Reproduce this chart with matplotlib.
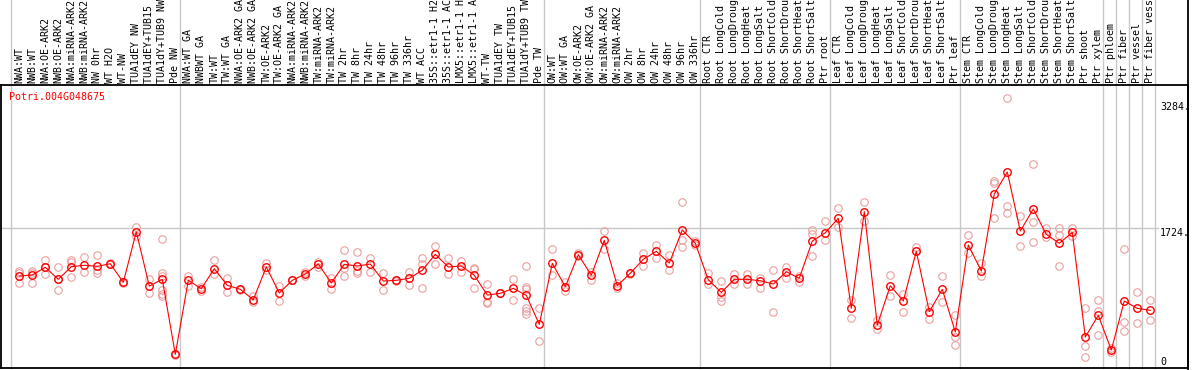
import matplotlib
matplotlib.use('Agg')
import matplotlib.pyplot as plt
from matplotlib.lines import Line2D
from matplotlib.transforms import blended_transform_factory

gene = 'Potri.004G048675'

# sample names, in plot order
samples = ['NWA:WT', 'NWB:WT', 'NWA:OE-ARK2', 'NWB:OE-ARK2', 'NWA:miRNA-ARK2',
           'NWB:miRNA-ARK2', 'NW 0hr', 'WT H2O', 'WT-NW', 'TUA1dEY NW',
           'TUA1dEY+TUB15 NW', 'TUA1dY+TUB9 NW', 'Pde NW',
           'NWA:WT GA', 'NWBWT GA', 'TW:WT', 'TW:WT GA', 'NWA:OE-ARK2 GA',
           'NWB:OE-ARK2 GA', 'TW:OE-ARK2', 'TW:OE-ARK2 GA', 'NWA:miRNA-ARK2',
           'NWB:miRNA-ARK2', 'TW:miRNA-ARK2', 'TW:miRNA-ARK2', 'TW 2hr', 'TW 8hr',
           'TW 24hr', 'TW 48hr', 'TW 96hr', 'TW 336hr', 'WT ACC',
           '35S::etr1-1 H2O', '35S::etr1-1 ACC', 'LMX5::etr1-1 H2O',
           'LMX5::etr1-1 ACC', 'WT-TW', 'TUA1dEY TW', 'TUA1dEY+TUB15 TW',
           'TUA1dY+TUB9 TW', 'Pde TW',
           'OW:WT', 'OW:WT GA', 'OW:OE-ARK2', 'OW:OE-ARK2 GA', 'OW:miRNA-ARK2',
           'OW:miRNA-ARK2', 'OW 2hr', 'OW 8hr', 'OW 24hr', 'OW 48hr', 'OW 96hr',
           'OW 336hr',
           'Root CTR', 'Root LongCold', 'Root LongDrought', 'Root LongHeat',
           'Root LongSalt', 'Root ShortCold', 'Root ShortDrought',
           'Root ShortHeat', 'Root ShortSalt', 'Ptr root',
           'Leaf CTR', 'Leaf LongCold', 'Leaf LongDrought', 'Leaf LongHeat',
           'Leaf LongSalt', 'Leaf ShortCold', 'Leaf ShortDrought',
           'Leaf ShortHeat', 'Leaf ShortSalt', 'Ptr leaf',
           'Stem CTR', 'Stem LongCold', 'Stem LongDrought', 'Stem LongHeat',
           'Stem LongSalt', 'Stem ShortCold', 'Stem ShortDrought',
           'Stem ShortHeat', 'Stem ShortSalt', 'Ptr shoot',
           'Ptr xylem', 'Ptr phloem', 'Ptr fiber', 'Ptr vessel', 'Ptr fiber vessel']

# first sample index of each group (last entry = end)
group_starts = [0, 13, 41, 53, 63, 73, 84, 85, 86, 87, 88]

# mean expression per sample
means = [1126, 1139, 1234, 1085, 1241, 1259, 1246, 1278, 1048, 1674,
         1002, 1085, 157, 1073, 969, 1217, 1011, 962, 833, 1238,
         916, 1073, 1151, 1275, 1040, 1271, 1250, 1275, 1064, 1073,
         1098, 1197, 1395, 1238, 1250, 1135, 891, 912, 974, 887,
         528, 1283, 994, 1390, 1135, 1568, 1006, 1160, 1333, 1432,
         1287, 1696, 1531, 1080, 924, 1085, 1085, 1068, 1027, 1179,
         1098, 1559, 1662, 1840, 726, 1922, 520, 1006, 817, 1432,
         684, 962, 433, 1510, 1188, 2141, 2413, 1683, 1955, 1642,
         1531, 1667, 371, 640, 210, 817, 726, 702]

# replicate values per sample
reps = [[1188, 1163, 1040], [1188, 1163, 1040], [1324, 1151, 1238],
        [1234, 949, 1089], [1324, 1110, 1300], [1358, 1172],
        [1382, 1160, 1200], [1270, 1285], [1040, 1055], [1733, 1625],
        [1085, 912], [1584, 1160, 1130, 953, 882, 903], [150, 163],
        [1126, 1002], [994, 937], [1324, 1155], [1098, 932], [962, 955],
        [882, 804], [1283, 1200], [999, 813], [1073, 1080], [1179, 1126],
        [1241, 1300], [1098, 962], [1444, 1130, 1229], [1420, 1167, 1188],
        [1353, 1179], [1163, 953], [1073, 1065], [1179, 1019],
        [1353, 1275, 974], [1498, 1275], [1353, 1147], [1316, 1179],
        [1229, 981, 1213], [1023, 804, 788], [912, 920], [1085, 825],
        [1250, 986, 965, 734, 693, 656], [726, 318], [1457, 1135],
        [1048, 941], [1415, 1374], [1179, 1077], [1683, 1457], [1036, 974],
        [1160, 1150], [1407, 1254], [1510, 1345], [1386, 1197],
        [2038, 1572, 1489], [1563, 1510], [1160, 1023], [1068, 863, 821],
        [1147, 1031], [1151, 1023], [1098, 981], [1200, 681], [1241, 1098],
        [1126, 1056], [1696, 1642, 1370], [1807, 1572], [1968, 1729],
        [829, 603], [2038, 1807], [582, 467], [1139, 882], [903, 677],
        [1489, 1436], [746, 590], [1126, 808], [644, 375, 269], [1634, 1407],
        [1291, 1130], [2306, 2273, 1840], [3325, 1993, 1902], [1869, 1497],
        [2512, 1791, 1543], [1717, 1613], [1717, 1634, 1250], [1724, 1625],
        [726, 260, 127], [829, 697, 392], [231, 189], [1457, 557, 442],
        [924, 541], [829, 582]]

y_ticks = [3284, 1724, 0]
y_tick_labels = ['3284.', '1724.', '0']
ref_level = 1724

W, H = 1194, 370
fig = plt.figure(figsize=(W / 100, H / 100), dpi=100)
ax = fig.add_axes([1 / W, 2 / H, 1187 / W, 283 / H])

x = list(range(len(samples)))
mono = 'DejaVu Sans Mono'
fs = 7.2

# replicates
for i, vals in enumerate(reps):
    ax.plot([i] * len(vals), vals, 'o', ms=5.4, mfc='none', mec='#eb9e9e',
            mew=0.8, zorder=3)

# means
ax.plot(x, means, '-', color='red', lw=0.8, zorder=4)
ax.plot(x, means, 'o', ms=5.4, mfc='none', mec='red', mew=1.0, zorder=5)

ax.set_xlim((1 - 19.3) / 13, (1188 - 19.3) / 13)
ax.set_ylim(-12, 3490)
ax.set_xticks([])
ax.set_yticks([])
for s in ax.spines.values():
    s.set_linewidth(1.3)
    s.set_color('black')

# grey reference lines
ax.axhline(ref_level, xmin=0, xmax=1157 / 1187, color='#c8c8c8', lw=1.0, zorder=1)
for g in group_starts:
    ax.axvline(g - 0.65, ymin=0, ymax=1.32, color='#c8c8c8', lw=1.0,
               clip_on=False, zorder=1)

# right border runs up through the label strip
fig.add_artist(Line2D([1188 / W, 1188 / W], [0, 1], color='black', lw=1.3))

# sample labels above the plot
tr = blended_transform_factory(ax.transData, ax.transAxes)
for i, name in enumerate(samples):
    ax.text(i, 1.007, name, rotation=90, ha='center', va='bottom',
            family=mono, fontsize=fs, transform=tr, clip_on=False)

# value labels on the right
xl = (1160 - 19.3) / 13
for v, lab in zip(y_ticks, y_tick_labels):
    ax.text(xl, v, lab, ha='left', va='bottom' if v == 0 else 'top',
            family=mono, fontsize=fs, clip_on=False)

ax.text(8 / 1187, 1 - 7 / 283, gene, color='red', family=mono, fontsize=fs,
        ha='left', va='top', transform=ax.transAxes)

fig.savefig('out.png', dpi=100)
